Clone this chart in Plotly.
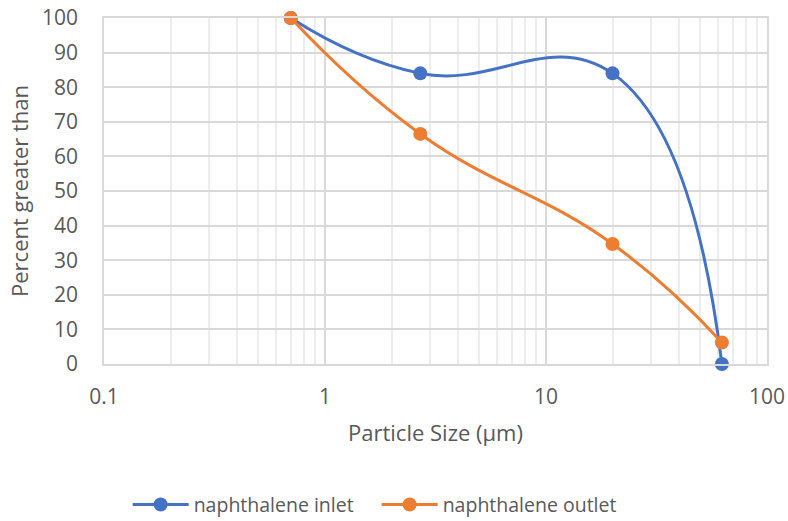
import plotly.graph_objects as go

# Particle size distribution (cumulative percent greater than)
particle_size = [0.7, 2.7, 20, 62.5]
inlet_pct = [100, 84, 84, 0]
outlet_pct = [100, 66.5, 34.7, 6.2]

x_ticks = [0.1, 1, 10, 100]
x_tick_labels = ["0.1", "1", "10", "100"]
y_ticks = list(range(0, 101, 10))

BLUE = "#4472C4"
ORANGE = "#ED7D31"
FONT = "Open Sans"
TEXT_GRAY = "#595959"
TICK_SIZE = 21
TITLE_SIZE = 22
LEGEND_SIZE = 19.5

fig = go.Figure()
fig.add_trace(go.Scatter(
    x=particle_size, y=inlet_pct, name="naphthalene inlet",
    mode="lines+markers", cliponaxis=False,
    line=dict(color=BLUE, width=3, shape="spline", smoothing=1.3),
    marker=dict(color=BLUE, size=14, symbol="circle"),
))
fig.add_trace(go.Scatter(
    x=particle_size, y=outlet_pct, name="naphthalene outlet",
    mode="lines+markers", cliponaxis=False,
    line=dict(color=ORANGE, width=3, shape="spline", smoothing=1.3),
    marker=dict(color=ORANGE, size=14, symbol="circle"),
))

fig.update_layout(
    width=788, height=521,
    margin=dict(l=104, r=21, t=18, b=157, autoexpand=False),
    paper_bgcolor="white", plot_bgcolor="white",
    font=dict(family=FONT, size=TICK_SIZE, color=TEXT_GRAY),
    showlegend=True,
    legend=dict(
        orientation="h", xref="container", yref="container",
        x=0.478, xanchor="center", y=0.031, yanchor="middle",
        font=dict(family=FONT, size=LEGEND_SIZE, color=TEXT_GRAY),
        itemwidth=56,
        entrywidth=178, entrywidthmode="pixels",
    ),
    xaxis=dict(
        type="log", range=[-1, 2], automargin=False,
        tickvals=x_ticks, ticktext=x_tick_labels,
        showgrid=True, gridcolor="#D9D9D9", gridwidth=1.5,
        minor=dict(dtick="D1", showgrid=True, gridcolor="#EDEDED", gridwidth=1.5),
        showline=True, linecolor="#D9D9D9", linewidth=1.5, mirror=True,
        ticks="outside", ticklen=13, tickcolor="rgba(0,0,0,0)",
        tickfont=dict(family=FONT, size=TICK_SIZE, color=TEXT_GRAY),
        title=dict(text="Particle Size (µm)", standoff=17,
                   font=dict(family=FONT, size=TITLE_SIZE, color=TEXT_GRAY)),
        zeroline=False,
    ),
    yaxis=dict(
        range=[0, 100], tickvals=y_ticks, automargin=False,
        showgrid=True, gridcolor="#D9D9D9", gridwidth=1.5,
        showline=True, linecolor="#D9D9D9", linewidth=1.5, mirror=True,
        ticks="outside", ticklen=20, tickcolor="rgba(0,0,0,0)",
        tickfont=dict(family=FONT, size=TICK_SIZE, color=TEXT_GRAY),
        title=dict(text="Percent greater than", standoff=7,
                   font=dict(family=FONT, size=TITLE_SIZE, color=TEXT_GRAY)),
        zeroline=False,
    ),
)

fig.write_html("out.html")
